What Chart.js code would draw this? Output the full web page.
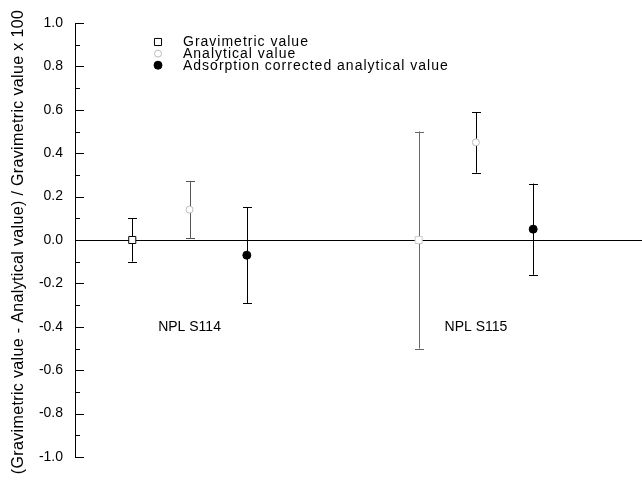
<!DOCTYPE html>
<html>
<head>
<meta charset="utf-8">
<script src="https://cdn.jsdelivr.net/npm/chart.js@4.4.1/dist/chart.umd.min.js"></script>
<style>
  html, body { margin: 0; padding: 0; background: #fff; overflow: hidden; }
  #wrap { width: 642px; height: 482px; }
</style>
</head>
<body>
<div id="wrap"><canvas id="chart"></canvas></div>
<script>
const seriesNames = ['Gravimetric value', 'Analytical value', 'Adsorption corrected analytical value'];
const samples = ['NPL S114', 'NPL S115'];
const yTitle = '(Gravimetric value - Analytical value) / Gravimetric value x 100';

// slot of each measurement along the (unlabelled) x axis
const gravX = [1, 6];
const analX = [2, 7];
const corrX = [3, 8];

const gravY = [0.0, 0.0];
const gravErr = [0.10, 0.50];
const analY = [0.14, 0.45];
const analErr = [0.13, 0.14];
const corrY = [-0.07, 0.05];
const corrErr = [0.22, 0.21];

// where the sample names sit, in data units
const sampleLabelX = [2, 7];
const sampleLabelY = [-0.4, -0.4];

const yTicks = [-1.0, -0.8, -0.6, -0.4, -0.2, 0.0, 0.2, 0.4, 0.6, 0.8, 1.0];

const FONT = '"Liberation Sans", Arial, sans-serif';

function pts(xs, ys) {
  return xs.map((x, i) => ({ x: x, y: ys[i] }));
}

function drawMarker(ctx, style, x, y, r, fill, stroke) {
  ctx.save();
  ctx.beginPath();
  if (style === 'rect') {
    const s = r * Math.SQRT1_2;
    ctx.rect(x - s, y - s, 2 * s, 2 * s);
  } else {
    ctx.arc(x, y, r, 0, Math.PI * 2);
  }
  ctx.fillStyle = fill;
  ctx.fill();
  ctx.lineWidth = 1;
  ctx.strokeStyle = stroke;
  ctx.stroke();
  ctx.restore();
}

const errorBars = {
  id: 'errorBars',
  beforeDatasetsDraw(chart) {
    const ctx = chart.ctx;
    const xs = chart.scales.x, ys = chart.scales.y;
    chart.data.datasets.forEach(ds => {
      ds.data.forEach((p, i) => {
        const px = Math.round(xs.getPixelForValue(p.x)) + 0.5;
        const top = ys.getPixelForValue(p.y + ds.errors[i]);
        const bot = ys.getPixelForValue(p.y - ds.errors[i]);
        ctx.save();
        ctx.strokeStyle = ds.errColor[i];
        ctx.lineWidth = 1;
        ctx.beginPath();
        ctx.moveTo(px, top);
        ctx.lineTo(px, bot);
        ctx.moveTo(px - 4.5, Math.round(top) + 0.5);
        ctx.lineTo(px + 4.5, Math.round(top) + 0.5);
        ctx.moveTo(px - 4.5, Math.round(bot) + 0.5);
        ctx.lineTo(px + 4.5, Math.round(bot) + 0.5);
        ctx.stroke();
        ctx.restore();
      });
    });
  },
  afterDraw(chart) {
    const ctx = chart.ctx;
    const xs = chart.scales.x, ys = chart.scales.y;
    const area = chart.chartArea;

    // inward ticks on the y axis
    ctx.save();
    ctx.strokeStyle = '#000';
    ctx.lineWidth = 1;
    ctx.beginPath();
    ys.ticks.forEach(t => {
      const py = Math.round(ys.getPixelForValue(t.value)) + 0.5;
      const len = t.label ? 9 : 5;
      ctx.moveTo(area.left, py);
      ctx.lineTo(area.left + len, py);
    });
    ctx.stroke();

    // sample names
    ctx.fillStyle = '#000';
    ctx.font = '14px ' + FONT;
    ctx.textAlign = 'center';
    ctx.textBaseline = 'middle';
    samples.forEach((s, i) => {
      ctx.fillText(s, xs.getPixelForValue(sampleLabelX[i]), ys.getPixelForValue(sampleLabelY[i]));
    });

    // legend
    ctx.textAlign = 'left';
    if ('letterSpacing' in ctx) ctx.letterSpacing = '1px';
    chart.data.datasets.forEach((ds, i) => {
      const y = 42 + i * 11.6;
      drawMarker(ctx, ds.pointStyle, 158, y, ds.pointRadius,
        ds.pointBackgroundColor[0], ds.pointBorderColor[0]);
      ctx.fillStyle = '#000';
      ctx.fillText(ds.label, 183, y + 0.5);
    });

    // y axis title, spaced out like the scanned original
    ctx.translate(19, (area.top + area.bottom) / 2 + 2);
    ctx.rotate(-Math.PI / 2);
    ctx.font = '16px ' + FONT;
    ctx.textAlign = 'center';
    if ('letterSpacing' in ctx) ctx.letterSpacing = '0.35px';
    ctx.fillText(yTitle, 0, 0);
    ctx.restore();
  }
};

new Chart(document.getElementById('chart'), {
  type: 'scatter',
  data: {
    datasets: [
      {
        label: seriesNames[0],
        data: pts(gravX, gravY),
        errors: gravErr,
        errColor: ['#000', '#666'],
        pointStyle: 'rect',
        pointRadius: 5,
        pointBackgroundColor: ['#fff', '#fff'],
        pointBorderColor: ['#000', '#ccc'],
        pointBorderWidth: 1
      },
      {
        label: seriesNames[1],
        data: pts(analX, analY),
        errors: analErr,
        errColor: ['#555', '#000'],
        pointStyle: 'circle',
        pointRadius: 3.5,
        pointBackgroundColor: ['#fff', '#fff'],
        pointBorderColor: ['#bbb', '#bbb'],
        pointBorderWidth: 1
      },
      {
        label: seriesNames[2],
        data: pts(corrX, corrY),
        errors: corrErr,
        errColor: ['#000', '#000'],
        pointStyle: 'circle',
        pointRadius: 4,
        pointBackgroundColor: ['#000', '#000'],
        pointBorderColor: ['#000', '#000'],
        pointBorderWidth: 1
      }
    ]
  },
  options: {
    responsive: true,
    maintainAspectRatio: false,
    animation: false,
    layout: { autoPadding: false, padding: { top: 23, bottom: 25, left: 0, right: 0 } },
    plugins: {
      legend: { display: false },
      tooltip: { enabled: false }
    },
    scales: {
      x: { type: 'linear', min: 0, max: 9.9, display: false },
      y: {
        type: 'linear',
        min: -1,
        max: 1,
        afterBuildTicks(scale) {
          const vals = yTicks.slice();
          for (let i = 0; i < yTicks.length - 1; i++) vals.push((yTicks[i] + yTicks[i + 1]) / 2);
          vals.sort((a, b) => a - b);
          scale.ticks = vals.map(v => ({ value: v }));
        },
        afterFit(scale) { scale.width = 75; },
        ticks: {
          padding: 12,
          color: '#000',
          font: { family: FONT, size: 14 },
          callback: v => yTicks.some(t => Math.abs(t - v) < 1e-9) ? v.toFixed(1) : ''
        },
        grid: {
          drawTicks: false,
          color: c => (c.tick && c.tick.value === 0) ? '#000' : 'rgba(0,0,0,0)'
        },
        border: { display: true, color: '#000', width: 1 },
        title: { display: false }
      }
    }
  },
  plugins: [errorBars]
});
</script>
</body>
</html>
